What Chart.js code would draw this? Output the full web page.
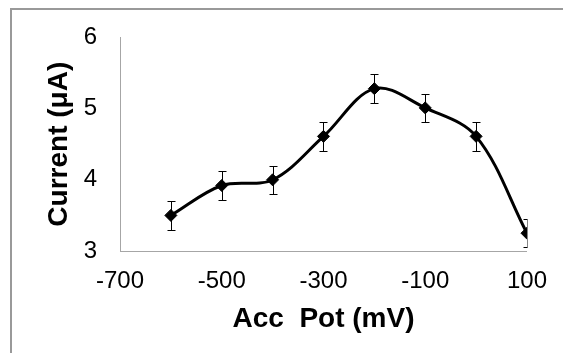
<!DOCTYPE html>
<html>
<head>
<meta charset="utf-8">
<title>Current vs Acc Pot</title>
<script src="https://cdn.jsdelivr.net/npm/chart.js@4.4.0/dist/chart.umd.min.js"></script>
<style>
  html, body { margin: 0; padding: 0; background: #fff; }
  #wrap { position: relative; width: 563px; height: 353px; overflow: hidden; }
  #frame {
    position: absolute; left: 10px; top: 8px; width: 600px; height: 400px;
    border: 2px solid #999; box-sizing: border-box;
  }
  #chart { position: absolute; left: 0; top: 0; }
</style>
</head>
<body>
<div id="wrap">
  <div id="frame"></div>
  <canvas id="chart" width="563" height="353"></canvas>
</div>
<script>
// Accumulation potential (mV) vs peak current (uA), with error bars
const accPot = [-600, -500, -400, -300, -200, -100, 0, 100];
const current = [3.5, 3.92, 4.0, 4.61, 5.28, 5.01, 4.61, 3.25];
const currentErr = [0.2, 0.2, 0.2, 0.2, 0.2, 0.2, 0.2, 0.2];
const xTicks = [-700, -500, -300, -100, 100];
const yTicks = [3, 4, 5, 6];

const FONT = 'Liberation Sans, Arial, sans-serif';

// error bars drawn through the y scale, clipped to the plot width like Excel does
const errorBars = {
  id: 'errorBars',
  afterDatasetsDraw(chart) {
    const meta = chart.getDatasetMeta(0);
    const yScale = chart.scales.y;
    const area = chart.chartArea;
    const ctx = chart.ctx;
    ctx.save();
    ctx.beginPath();
    ctx.rect(area.left, 0, area.right - area.left + 0.5, chart.height);
    ctx.clip();
    ctx.strokeStyle = '#000';
    ctx.lineWidth = 1;
    meta.data.forEach((pt, i) => {
      const x = Math.round(pt.x) + 0.5;
      const top = Math.round(yScale.getPixelForValue(current[i] + currentErr[i])) + 0.5;
      const bot = Math.round(yScale.getPixelForValue(current[i] - currentErr[i])) + 0.5;
      ctx.beginPath();
      ctx.moveTo(x, top); ctx.lineTo(x, bot);
      ctx.moveTo(x - 4, top); ctx.lineTo(x + 4, top);
      ctx.moveTo(x - 4, bot); ctx.lineTo(x + 4, bot);
      ctx.stroke();
    });
    ctx.restore();
  }
};

new Chart(document.getElementById('chart'), {
  type: 'scatter',
  data: {
    datasets: [{
      data: accPot.map((x, i) => ({ x, y: current[i] })),
      showLine: true,
      borderColor: '#000',
      borderWidth: 3,
      tension: 0.35,
      pointStyle: 'rectRot',
      pointRadius: 6,
      pointBackgroundColor: '#000',
      pointBorderColor: '#000',
      pointBorderWidth: 1
    }]
  },
  options: {
    responsive: false,
    animation: false,
    events: [],
    layout: { padding: { left: 30, top: 34, right: 35, bottom: 17 } },
    plugins: {
      legend: { display: false },
      tooltip: { enabled: false }
    },
    scales: {
      x: {
        type: 'linear',
        min: -700,
        max: 100,
        afterBuildTicks: scale => { scale.ticks = xTicks.map(v => ({ value: v })); },
        afterFit: scale => { scale.height = 85; },
        grid: { display: false, drawTicks: false },
        border: { display: true, color: '#a6a6a6', width: 1 },
        ticks: { color: '#000', padding: 16, maxRotation: 0, font: { family: FONT, size: 24 } },
        title: {
          display: true,
          text: 'Acc  Pot (mV)',
          color: '#000',
          padding: { top: 0, bottom: 0 },
          font: { family: FONT, size: 28, weight: 'bold' }
        }
      },
      y: {
        min: 3,
        max: 6,
        afterBuildTicks: scale => { scale.ticks = yTicks.map(v => ({ value: v })); },
        afterFit: scale => { scale.width = 90; },
        grid: { display: false, drawTicks: false },
        border: { display: true, color: '#a6a6a6', width: 1 },
        ticks: { color: '#000', padding: 23, font: { family: FONT, size: 24 } },
        title: {
          display: true,
          text: 'Current (\u03bcA)',
          color: '#000',
          padding: { top: 12, bottom: 0 },
          font: { family: FONT, size: 28, weight: 'bold' }
        }
      }
    }
  },
  plugins: [errorBars]
});
</script>
</body>
</html>
